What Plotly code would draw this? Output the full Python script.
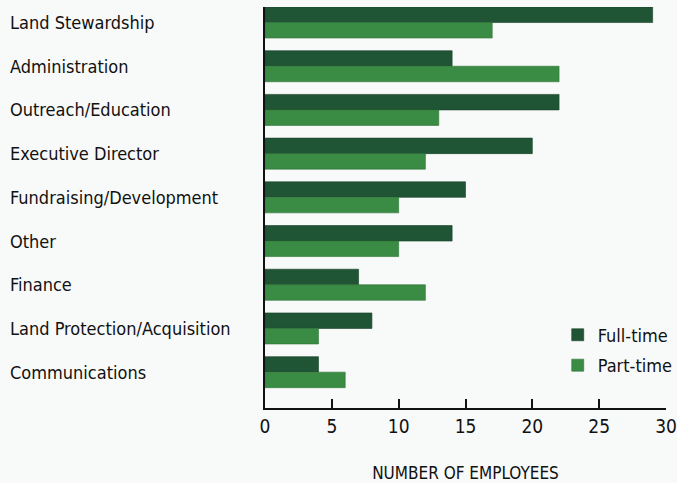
import plotly.graph_objects as go

categories = ["Land Stewardship", "Administration", "Outreach/Education", "Executive Director",
              "Fundraising/Development", "Other", "Finance", "Land Protection/Acquisition",
              "Communications"]
full_time = [29, 14, 22, 20, 15, 14, 7, 8, 4]
part_time = [17, 22, 13, 12, 10, 10, 12, 4, 6]
x_ticks = [0, 5, 10, 15, 20, 25, 30]

FONT = "DejaVu Sans Condensed, Liberation Sans Narrow, sans-serif"
DARK = "#1f5534"
LIGHT = "#3a8b43"
TXT = "#111111"

fig = go.Figure()
fig.add_trace(go.Bar(y=categories, x=full_time, orientation="h", name="Full-time",
                     legendgroup="ft",
                     marker=dict(color=DARK, line=dict(color="#183f28", width=0.6))))
fig.add_trace(go.Bar(y=categories, x=part_time, orientation="h", name="Part-time",
                     legendgroup="pt",
                     marker=dict(color=LIGHT, line=dict(color="#2f7339", width=0.6))))

for c in categories:
    fig.add_annotation(x=-0.641, xref="paper", y=c, yref="y", text=c, showarrow=False,
                       xanchor="left", yanchor="middle",
                       font=dict(family=FONT, size=18, color=TXT))

fig.update_layout(
    width=677, height=483,
    margin=dict(l=265, r=11, t=7, b=75, autoexpand=False),
    paper_bgcolor="#f8f9f9", plot_bgcolor="rgba(0,0,0,0)",
    barmode="group", bargap=0.29, bargroupgap=0,
    font=dict(family=FONT, color=TXT),
    legend=dict(x=0.73, y=0.228, xanchor="left", yanchor="top",
                font=dict(family=FONT, size=18, color=TXT),
                bgcolor="rgba(0,0,0,0)", tracegroupgap=4),
    xaxis=dict(range=[0, 30], tickvals=x_ticks, ticktext=[str(v) for v in x_ticks],
               showgrid=False, zeroline=False, showline=True, linecolor=TXT, linewidth=1.5,
               ticks="inside", ticklen=9, tickwidth=1.5, tickcolor=TXT,
               tickfont=dict(family=FONT, size=19, color=TXT),
               title=dict(text="NUMBER OF EMPLOYEES", font=dict(family=FONT, size=17, color=TXT),
                          standoff=32)),
    yaxis=dict(type="category", categoryorder="array", categoryarray=categories,
               range=[8.82, -0.355], showticklabels=False, showgrid=False, zeroline=False,
               showline=True, linecolor=TXT, linewidth=1.5, ticks=""),
)

fig.write_html("out.html")
